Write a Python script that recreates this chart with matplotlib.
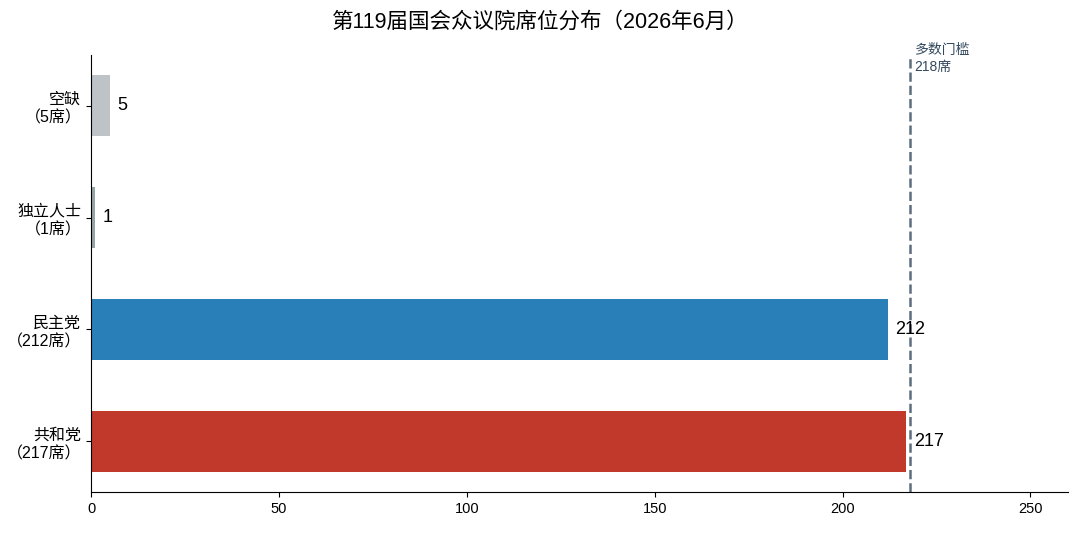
import matplotlib
matplotlib.use("Agg")
import matplotlib.pyplot as plt

plt.rcParams['font.family'] = ['Liberation Sans', 'Noto Sans CJK SC', 'DejaVu Sans']

categories = ["共和党", "民主党", "独立人士", "空缺"]
seats = [217, 212, 1, 5]
colors = ["#c0392b", "#2980b9", "#95a5a6", "#bdc3c7"]
threshold = 218
title = "第119届国会众议院席位分布（2026年6月）"

fig = plt.figure(figsize=(10.8, 5.34), dpi=100)
ax = fig.add_axes([91/1080, 1-492/534, (1068-91)/1080, (492-55)/534])

ypos = list(range(len(categories)))
ax.barh(ypos, seats, height=0.55, color=colors)
ax.set_yticks(ypos)
ax.set_yticklabels([f"{c}\n（{s}席）" for c, s in zip(categories, seats)], fontsize=11.5,
                   linespacing=1.3)
for y, s in zip(ypos, seats):
    ax.text(s + 2, y, str(s), va='center', ha='left', fontsize=13)

ax.axvline(threshold, color="#5d6d7e", linestyle='--', linewidth=1.8)
ax.text(threshold + 1.2, 3.42, f"多数门槛\n{threshold}席", fontsize=10, color="#34495e",
        va='center', ha='left', linespacing=1.3)

ax.set_xlim(0, 260)
ax.set_xticks([0, 50, 100, 150, 200, 250])
ax.tick_params(axis='x', labelsize=10.5)
ax.spines['top'].set_visible(False)
ax.spines['right'].set_visible(False)
fig.text(0.5, 1-22/534, title, fontsize=15.5, ha='center', va='center')

fig.savefig("out.png", dpi=100)
